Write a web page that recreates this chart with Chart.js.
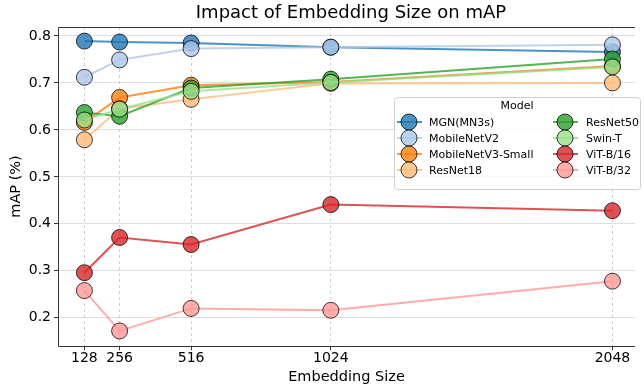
<!DOCTYPE html>
<html>
<head>
<meta charset="utf-8">
<script src="https://cdn.jsdelivr.net/npm/chart.js@4"></script>
<style>
  html, body { margin: 0; padding: 0; background: #fff; }
  #wrap { width: 644px; height: 386px; }
</style>
</head>
<body>
<div id="wrap"><canvas id="mapChart" width="644" height="386"></canvas></div>
<script>
// --- Data ---
const embeddingSizes = [128, 256, 516, 1024, 2048];
const modelNames = ['MGN(MN3s)', 'MobileNetV2', 'MobileNetV3-Small', 'ResNet18', 'ResNet50', 'Swin-T', 'ViT-B/16', 'ViT-B/32'];
const mgnMap = [0.789, 0.787, 0.785, 0.776, 0.766];
const mobileNetV2Map = [0.712, 0.749, 0.773, 0.776, 0.781];
const mobileNetV3Map = [0.616, 0.669, 0.695, 0.702, 0.736];
const resNet18Map = [0.579, 0.645, 0.665, 0.699, 0.700];
const resNet50Map = [0.637, 0.629, 0.689, 0.708, 0.751];
const swinTMap = [0.621, 0.644, 0.682, 0.701, 0.734];
const vitB16Map = [0.296, 0.371, 0.356, 0.441, 0.428];
const vitB32Map = [0.258, 0.172, 0.220, 0.216, 0.278];
const yTicks = [0.2, 0.3, 0.4, 0.5, 0.6, 0.7, 0.8];

const seriesValues = [mgnMap, mobileNetV2Map, mobileNetV3Map, resNet18Map, resNet50Map, swinTMap, vitB16Map, vitB32Map];
const colors = ['31,119,180', '174,199,232', '255,127,14', '255,187,120', '44,160,44', '152,223,138', '214,39,40', '255,152,150'];

const FONT = 'DejaVu Sans';

const datasets = modelNames.map((name, i) => ({
    label: name,
    data: embeddingSizes.map((x, j) => ({ x: x, y: seriesValues[i][j] })),
    borderColor: 'rgba(' + colors[i] + ',0.8)',
    backgroundColor: 'rgba(' + colors[i] + ',0.8)',
    pointBackgroundColor: 'rgba(' + colors[i] + ',0.8)',
    pointBorderColor: 'rgba(0,0,0,0.75)',
    pointBorderWidth: 1,
    pointRadius: 8,
    borderWidth: 2,
    tension: 0,
    // matplotlib puts the last series on top
    order: modelNames.length - i
}));

// Draw the axis frame (left, top, bottom) like matplotlib spines, plus the title
const framePlugin = {
    id: 'frame',
    afterDraw(chart) {
        const a = chart.chartArea;
        const ctx = chart.ctx;
        ctx.save();
        ctx.strokeStyle = '#333';
        ctx.lineWidth = 1;
        ctx.beginPath();
        ctx.moveTo(a.right, a.top + 0.5);
        ctx.lineTo(a.left + 0.5, a.top + 0.5);
        ctx.lineTo(a.left + 0.5, a.bottom + 0.5);
        ctx.lineTo(a.right, a.bottom + 0.5);
        ctx.stroke();
        ctx.fillStyle = '#000';
        ctx.font = '18px ' + FONT;
        ctx.textAlign = 'center';
        ctx.textBaseline = 'middle';
        ctx.fillText('Impact of Embedding Size on mAP', 351, 13);
        ctx.restore();
    }
};

// Legend inside the plot, two columns, with a "Model" title
const legendPlugin = {
    id: 'boxLegend',
    afterDraw(chart) {
        const ctx = chart.ctx;
        const bx = 394, by = 97, bw = 246, bh = 92;
        ctx.save();
        ctx.fillStyle = 'rgba(255,255,255,0.8)';
        ctx.strokeStyle = '#d0d0d0';
        ctx.lineWidth = 1;
        ctx.beginPath();
        ctx.roundRect(bx + 0.5, by + 0.5, bw, bh, 3);
        ctx.fill();
        ctx.stroke();
        ctx.fillStyle = '#000';
        ctx.font = '11px ' + FONT;
        ctx.textAlign = 'center';
        ctx.textBaseline = 'middle';
        ctx.fillText('Model', 517, 106);
        ctx.textAlign = 'left';
        chart.data.datasets.forEach((ds, i) => {
            const col = Math.floor(i / 4);
            const row = i % 4;
            const mx = col === 0 ? 409 : 565;
            const tx = col === 0 ? 429 : 586;
            const y = 122 + row * 16;
            ctx.strokeStyle = ds.borderColor;
            ctx.lineWidth = 2;
            ctx.beginPath();
            ctx.moveTo(mx - 12, y);
            ctx.lineTo(mx + 13, y);
            ctx.stroke();
            ctx.beginPath();
            ctx.arc(mx, y, 8, 0, Math.PI * 2);
            ctx.fillStyle = ds.pointBackgroundColor;
            ctx.fill();
            ctx.strokeStyle = 'rgba(0,0,0,0.75)';
            ctx.lineWidth = 1;
            ctx.stroke();
            ctx.fillStyle = '#000';
            ctx.fillText(ds.label, tx, y + 1);
        });
        ctx.restore();
    }
};

const ctx = document.querySelector('#mapChart').getContext('2d');
const chart = new Chart(ctx, {
    type: 'line',
    data: { datasets: datasets },
    plugins: [framePlugin, legendPlugin],
    options: {
        responsive: false,
        animation: false,
        layout: { padding: { top: 27, right: 0, left: 0, bottom: 0 } },
        plugins: {
            legend: { display: false },
            title: { display: false },
            tooltip: { enabled: false }
        },
        scales: {
            x: {
                type: 'linear',
                min: 32,
                max: 2130,
                afterBuildTicks: (axis) => {
                    axis.ticks = embeddingSizes.map(v => ({ value: v }));
                },
                afterFit: (axis) => { axis.height = 40; },
                // in v4 border.dash dashes the grid lines
                border: { display: false, dash: [3, 3] },
                grid: {
                    color: 'rgba(0,0,0,0.18)',
                    lineWidth: 1,
                    tickLength: 4,
                    tickColor: '#333',
                    tickBorderDash: []
                },
                ticks: {
                    color: '#000',
                    font: { family: FONT, size: 14 },
                    padding: 0,
                    maxRotation: 0,
                    autoSkip: false,
                    callback: (v) => String(v)
                },
                title: {
                    display: true,
                    text: 'Embedding Size',
                    color: '#000',
                    font: { family: FONT, size: 14.5 },
                    padding: { top: 0, bottom: 0 }
                }
            },
            y: {
                min: 0.14,
                max: 0.819,
                afterBuildTicks: (axis) => {
                    axis.ticks = yTicks.map(v => ({ value: v }));
                },
                afterFit: (axis) => { axis.width = 58; },
                border: { display: false },
                grid: {
                    color: 'rgba(0,0,0,0.13)',
                    lineWidth: 1,
                    tickLength: 4,
                    tickColor: '#333'
                },
                ticks: {
                    color: '#000',
                    font: { family: FONT, size: 14 },
                    padding: 3,
                    callback: (v) => v.toFixed(1)
                },
                title: {
                    display: true,
                    text: 'mAP (%)',
                    color: '#000',
                    font: { family: FONT, size: 14.5 },
                    padding: { top: 8, bottom: 0 }
                }
            }
        }
    }
});
</script>
</body>
</html>
